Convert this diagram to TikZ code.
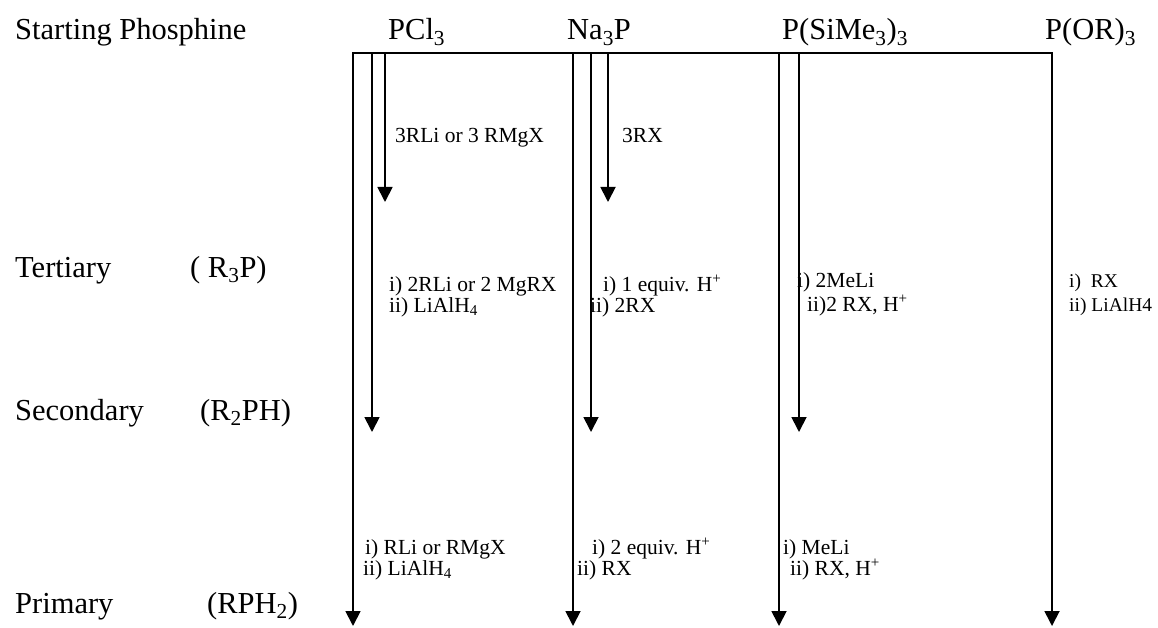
\documentclass[tikz,border=0pt]{standalone}
\usepackage{fontspec}
\setmainfont{Liberation Serif}
\usetikzlibrary{arrows.meta}
\begin{document}
\begin{tikzpicture}[x=1pt,y=-1pt,
  hdr/.style={font=\fontsize{30.5}{36}\selectfont, anchor=base west, inner sep=0pt},
  lbl/.style={font=\fontsize{21.5}{24}\selectfont, anchor=base west, inner sep=0pt},
  lblsm/.style={lbl, font=\fontsize{19.5}{22}\selectfont},
  flow/.style={line width=1.8pt, -{Triangle[width=15pt,length=15pt]}},
  bar/.style={line width=1.8pt, line cap=rect}]
\useasboundingbox (0,0) rectangle (1158,628);
% headers
\node[hdr] (start) at (15,40) {Starting Phosphine};
\node[hdr] (pcl) at (388,40) {PCl\textsubscript{3}};
\node[hdr] (nap) at (567,40) {Na\textsubscript{3}P};
\node[hdr] (sip) at (782,40) {P(SiMe\textsubscript{3})\textsubscript{3}};
\node[hdr] (orp) at (1045,40) {P(OR)\textsubscript{3}};
% row labels
\node[hdr] (ter) at (15,277) {Tertiary};
\node[hdr] (terf) at (190,277) {( R\textsubscript{3}P)};
\node[hdr] (sec) at (15,420) {Secondary};
\node[hdr] (secf) at (200,420) {(R\textsubscript{2}PH)};
\node[hdr] (pri) at (15,613) {Primary};
\node[hdr] (prif) at (207,613) {(RPH\textsubscript{2})};
% coordinates
\coordinate (A1t) at (353,53); \coordinate (A1e) at (353,626);
\coordinate (A2t) at (372,53); \coordinate (A2e) at (372,432);
\coordinate (A3t) at (385,53); \coordinate (A3e) at (385,202);
\coordinate (B1t) at (573,53); \coordinate (B1e) at (573,626);
\coordinate (B2t) at (591,53); \coordinate (B2e) at (591,432);
\coordinate (B3t) at (608,53); \coordinate (B3e) at (608,202);
\coordinate (C1t) at (779,53); \coordinate (C1e) at (779,626);
\coordinate (C2t) at (799,53); \coordinate (C2e) at (799,432);
\coordinate (D1t) at (1052,53); \coordinate (D1e) at (1052,626);
% top bar
\draw[bar] (A1t) -- (D1t);
% arrows
\foreach \n in {A1,A2,A3,B1,B2,B3,C1,C2,D1}
  \draw[flow] (\n t) -- (\n e);
% tertiary reagents
\node[lbl] (r1) at (395,143) {3RLi or 3 RMgX};
\node[lbl] (r2) at (622,143) {3RX};
% secondary reagents
\node[lbl] (s1a) at (389,291) {i) 2RLi or 2 MgRX};
\node[lbl] (s1b) at (389,312) {ii) LiAlH\textsubscript{4}};
\node[lbl] (s2a) at (603,291) {i) 1 equiv. H\textsuperscript{+}};
\node[lbl] (s2b) at (590,312) {ii) 2RX};
\node[lbl] (s3a) at (797,287) {i) 2MeLi};
\node[lbl] (s3b) at (807,311) {ii)2 RX, H\textsuperscript{+}};
\node[lblsm] (s4a) at (1069,287) {i)\ \ RX};
\node[lblsm] (s4b) at (1069,311) {ii) LiAlH4};
% primary reagents
\node[lbl] (p1a) at (365,554) {i) RLi or RMgX};
\node[lbl] (p1b) at (363,575) {ii) LiAlH\textsubscript{4}};
\node[lbl] (p2a) at (592,554) {i) 2 equiv. H\textsuperscript{+}};
\node[lbl] (p2b) at (577,575) {ii) RX};
\node[lbl] (p3a) at (783,554) {i) MeLi};
\node[lbl] (p3b) at (790,575) {ii) RX, H\textsuperscript{+}};
\end{tikzpicture}
\end{document}
